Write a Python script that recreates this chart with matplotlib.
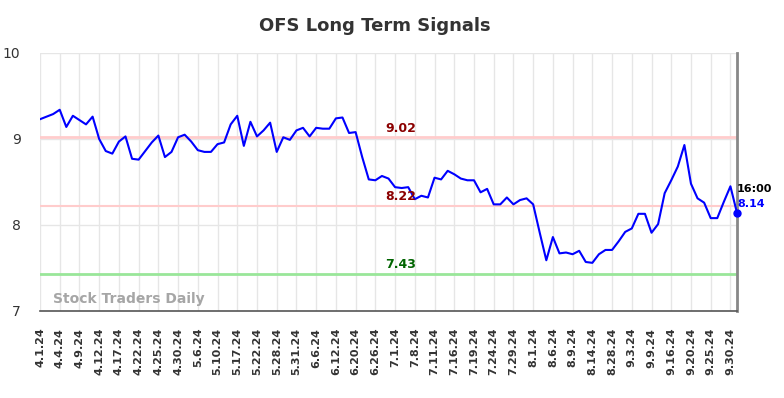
import matplotlib
matplotlib.use("Agg")
import matplotlib.pyplot as plt

# closing prices, one per data point
prices = [9.23, 9.26, 9.29, 9.34, 9.14, 9.27, 9.22, 9.17, 9.26, 9.00,
          8.86, 8.83, 8.97, 9.03, 8.77, 8.76, 8.86, 8.96, 9.04, 8.79,
          8.85, 9.02, 9.05, 8.97, 8.87, 8.85, 8.85, 8.94, 8.96, 9.17,
          9.27, 8.92, 9.20, 9.03, 9.10, 9.19, 8.85, 9.02, 8.99, 9.10,
          9.13, 9.03, 9.13, 9.12, 9.12, 9.24, 9.25, 9.07, 9.08, 8.79,
          8.53, 8.52, 8.57, 8.54, 8.44, 8.43, 8.44, 8.30, 8.34, 8.32,
          8.55, 8.53, 8.63, 8.59, 8.54, 8.52, 8.52, 8.38, 8.42, 8.24,
          8.24, 8.32, 8.24, 8.29, 8.31, 8.24, 7.91, 7.59, 7.86, 7.67,
          7.68, 7.66, 7.70, 7.57, 7.56, 7.66, 7.71, 7.71, 7.81, 7.92,
          7.96, 8.13, 8.13, 7.91, 8.01, 8.37, 8.52, 8.68, 8.93, 8.48,
          8.31, 8.26, 8.08, 8.08, 8.27, 8.45, 8.14]

tick_labels = ["4.1.24", "4.4.24", "4.9.24", "4.12.24", "4.17.24", "4.22.24",
               "4.25.24", "4.30.24", "5.6.24", "5.10.24", "5.17.24", "5.22.24",
               "5.28.24", "5.31.24", "6.6.24", "6.12.24", "6.20.24", "6.26.24",
               "7.1.24", "7.8.24", "7.11.24", "7.16.24", "7.19.24", "7.24.24",
               "7.29.24", "8.1.24", "8.6.24", "8.9.24", "8.14.24", "8.28.24",
               "9.3.24", "9.9.24", "9.16.24", "9.20.24", "9.25.24", "9.30.24"]

resistance_high = 9.02
resistance_low = 8.22
support = 7.43
last_time = "16:00"

fig = plt.figure(figsize=(7.84, 3.98), dpi=100)
ax = fig.add_axes([40 / 784, 1 - 311 / 398, (737 - 40) / 784, (311 - 53) / 398])

x = list(range(len(prices)))
tick_pos = list(range(0, 3 * len(tick_labels), 3))

ax.set_xlim(0, len(prices) - 1)
ax.set_ylim(7, 10)

# grid
for t in tick_pos:
    ax.axvline(t, color="#e6e6e6", lw=1, zorder=0)
for yv in [8, 9, 10]:
    ax.axhline(yv, color="#e6e6e6", lw=1, zorder=0)

# signal lines
ax.axhline(resistance_high, color="#ffcccc", lw=2, zorder=1)
ax.axhline(resistance_low, color="#ffcccc", lw=1.5, zorder=1)
ax.axhline(support, color="#99e699", lw=2, zorder=1)
mid = 54.8
ax.text(mid, resistance_high + 0.03, f"{resistance_high:.2f}", color="#8b0000",
        fontsize=9, fontweight="bold", ha="center", va="bottom", zorder=5)
ax.text(mid, resistance_low + 0.03, f"{resistance_low:.2f}", color="#8b0000",
        fontsize=9, fontweight="bold", ha="center", va="bottom", zorder=5)
ax.text(mid, support + 0.03, f"{support:.2f}", color="#006400",
        fontsize=9, fontweight="bold", ha="center", va="bottom", zorder=5)

# price line
ax.plot(x, prices, color="#0000ff", lw=1.5, zorder=3)
ax.plot(x[-1], prices[-1], "o", color="#0000ff", ms=5, zorder=4, clip_on=False)
ax.text(x[-1], prices[-1] + 0.28, last_time, fontsize=8, fontweight="bold",
        color="black", ha="left", va="center")
ax.text(x[-1], prices[-1] + 0.1, f"{prices[-1]:.2f}", fontsize=8,
        fontweight="bold", color="#0000ff", ha="left", va="center")

ax.text(2, 7.06, "Stock Traders Daily", fontsize=10, fontweight="bold",
        color="#a6a6a6", ha="left", va="bottom")

ax.set_xticks(tick_pos)
ax.set_xticklabels(tick_labels, rotation=90, fontsize=8, fontweight="bold",
                   color="#333333")
ax.set_yticks([7, 8, 9, 10])
ax.set_yticklabels(["7", "8", "9", "10"], fontsize=10, color="#333333")
ax.tick_params(axis="x", length=0, pad=12)
ax.tick_params(axis="y", length=0, pad=14)

for side in ["top", "left"]:
    ax.spines[side].set_visible(False)
ax.spines["bottom"].set_color("#555555")
ax.spines["bottom"].set_linewidth(1.2)
ax.spines["right"].set_color("#888888")
ax.spines["right"].set_linewidth(2)

fig.suptitle("OFS Long Term Signals", x=375 / 784, y=1 - 26 / 398, va="center",
             fontsize=13, fontweight="bold", color="#333333")

fig.savefig("out.png", dpi=100)
